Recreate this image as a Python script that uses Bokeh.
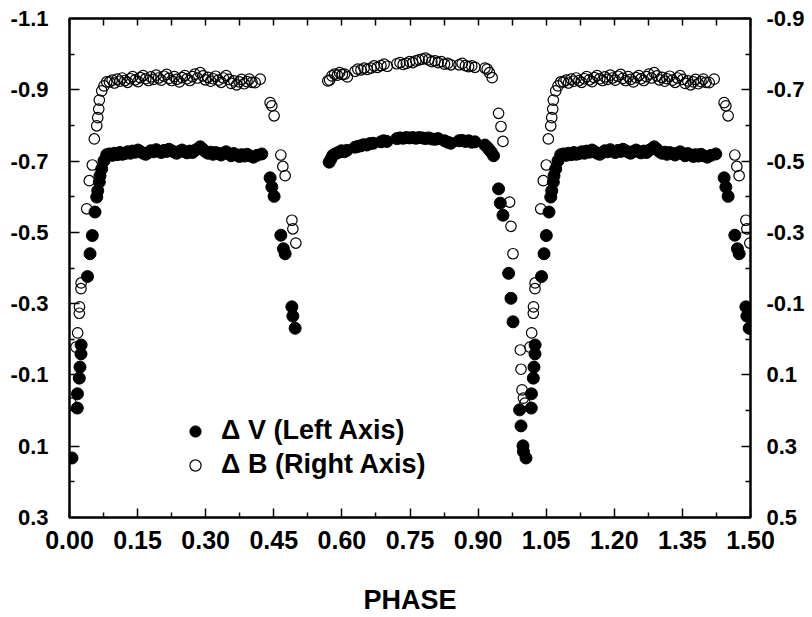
from bokeh.plotting import figure
from bokeh.models import (Range1d, LinearAxis, FixedTicker, PrintfTickFormatter,
                          Legend, LegendItem)
from bokeh.embed import file_html
from bokeh.resources import INLINE

# ---- Delta V (left axis): orbital phase 0..1 ----
v_phase = [
    0.0055, 0.0172, 0.0175, 0.0216, 0.0231, 0.0253, 0.0256, 0.0397, 0.0452, 0.0503,
    0.0562, 0.0600, 0.0622, 0.0657, 0.0672, 0.0710, 0.0760, 0.0820,
    0.088, 0.094, 0.099, 0.105, 0.111, 0.116, 0.122, 0.128, 0.134, 0.139,
    0.145, 0.151, 0.156, 0.162, 0.168, 0.174, 0.179, 0.185, 0.191, 0.196,
    0.202, 0.208, 0.214, 0.219, 0.225, 0.231, 0.236, 0.242, 0.248, 0.254,
    0.259, 0.265, 0.271, 0.276, 0.282, 0.288, 0.294, 0.299, 0.305, 0.311,
    0.316, 0.322, 0.328, 0.334, 0.339, 0.345, 0.351, 0.356, 0.362, 0.368,
    0.374, 0.379, 0.385, 0.391, 0.396,
    0.405, 0.413, 0.4236, 0.4419, 0.4457, 0.4507, 0.4655, 0.4712, 0.4750, 0.4898,
    0.4920, 0.4970,
    0.572, 0.576, 0.580, 0.585, 0.592, 0.599, 0.605, 0.611, 0.629, 0.635,
    0.642, 0.648, 0.655, 0.662, 0.669, 0.686, 0.692, 0.699, 0.721, 0.728,
    0.735, 0.742, 0.749, 0.756, 0.763, 0.770, 0.777, 0.784, 0.791, 0.798,
    0.805, 0.812, 0.826, 0.833, 0.840, 0.858, 0.865, 0.872, 0.879, 0.886,
    0.893, 0.915, 0.920, 0.925, 0.929, 0.934,
    0.9451, 0.9489, 0.9548, 0.9672, 0.9724, 0.9769, 0.9914, 0.9945, 0.9989, 0.9998,
]
v_mag = [
    0.133, -0.007, -0.047, -0.091, -0.122, -0.159, -0.184, -0.376, -0.440, -0.491,
    -0.557, -0.599, -0.617, -0.641, -0.659, -0.678, -0.701, -0.718,
    -0.720, -0.716, -0.722, -0.718, -0.724, -0.719, -0.721, -0.726, -0.722, -0.728,
    -0.725, -0.731, -0.727, -0.722, -0.719, -0.724, -0.729, -0.726, -0.732, -0.728,
    -0.724, -0.730, -0.727, -0.733, -0.729, -0.725, -0.722, -0.727, -0.731, -0.726,
    -0.723, -0.728, -0.724, -0.730, -0.734, -0.740, -0.733, -0.727, -0.722, -0.725,
    -0.719, -0.724, -0.721, -0.717, -0.722, -0.726, -0.720, -0.715, -0.721, -0.717,
    -0.713, -0.718, -0.714, -0.719, -0.715,
    -0.711, -0.716, -0.720, -0.653, -0.627, -0.601, -0.492, -0.454, -0.440, -0.291,
    -0.265, -0.231,
    -0.697, -0.706, -0.716, -0.720, -0.724, -0.729, -0.726, -0.730, -0.739, -0.741,
    -0.743, -0.746, -0.745, -0.749, -0.750, -0.754, -0.757, -0.755, -0.763, -0.765,
    -0.764, -0.766, -0.765, -0.766, -0.764, -0.766, -0.765, -0.763, -0.765, -0.762,
    -0.761, -0.763, -0.757, -0.753, -0.750, -0.757, -0.758, -0.755, -0.757, -0.753,
    -0.754, -0.745, -0.739, -0.731, -0.725, -0.715,
    -0.622, -0.582, -0.548, -0.385, -0.315, -0.249, -0.002, 0.043, 0.099, 0.115,
]

# ---- Delta B (right axis): orbital phase 0..1 ----
b_phase = [
    0.0033, 0.0143, 0.0180, 0.0216, 0.0220, 0.0253, 0.0256, 0.0379, 0.0436, 0.0503,
    0.0547, 0.0600, 0.0622, 0.0644, 0.0657, 0.0710, 0.0760, 0.0820,
    0.088, 0.094, 0.099, 0.105, 0.111, 0.116, 0.122, 0.128, 0.134, 0.139,
    0.145, 0.151, 0.156, 0.162, 0.168, 0.174, 0.179, 0.185, 0.191, 0.196,
    0.202, 0.208, 0.214, 0.219, 0.225, 0.231, 0.236, 0.242, 0.248, 0.254,
    0.259, 0.265, 0.271, 0.276, 0.282, 0.288, 0.294, 0.299, 0.305, 0.311,
    0.316, 0.322, 0.328, 0.334, 0.339, 0.345, 0.351, 0.356, 0.362, 0.368,
    0.374, 0.379, 0.385, 0.391, 0.396,
    0.402, 0.409, 0.420, 0.4419, 0.4457, 0.4507, 0.4655, 0.4699, 0.4750, 0.4898,
    0.4920, 0.4986,
    0.569, 0.573, 0.578, 0.584, 0.590, 0.595, 0.601, 0.606, 0.612, 0.629,
    0.635, 0.642, 0.649, 0.656, 0.664, 0.671, 0.678, 0.686, 0.693, 0.700,
    0.721, 0.728, 0.735, 0.742, 0.749, 0.756, 0.763, 0.770, 0.777, 0.784,
    0.791, 0.798, 0.805, 0.812, 0.819, 0.826, 0.833, 0.840, 0.858, 0.865,
    0.872, 0.879, 0.886, 0.893, 0.915, 0.920, 0.925, 0.931,
    0.9451, 0.9504, 0.9548, 0.9694, 0.9724, 0.9769, 0.9930, 0.9945, 0.9967, 0.9998,
]
b_mag = [
    0.179, 0.022, -0.018, -0.073, -0.091, -0.142, -0.158, -0.366, -0.445, -0.489,
    -0.562, -0.599, -0.622, -0.646, -0.671, -0.697, -0.711, -0.722,
    -0.722, -0.727, -0.719, -0.730, -0.724, -0.733, -0.726, -0.721, -0.731, -0.737,
    -0.728, -0.723, -0.734, -0.740, -0.731, -0.726, -0.736, -0.729, -0.741, -0.733,
    -0.727, -0.738, -0.743, -0.732, -0.726, -0.737, -0.729, -0.722, -0.734, -0.740,
    -0.731, -0.726, -0.737, -0.744, -0.733, -0.748, -0.739, -0.728, -0.735, -0.724,
    -0.731, -0.738, -0.727, -0.721, -0.733, -0.740, -0.729, -0.718, -0.725, -0.714,
    -0.722, -0.729, -0.717, -0.723, -0.730,
    -0.721, -0.720, -0.730, -0.664, -0.655, -0.627, -0.517, -0.485, -0.459, -0.334,
    -0.310, -0.270,
    -0.725, -0.727, -0.739, -0.744, -0.741, -0.748, -0.743, -0.744, -0.736, -0.752,
    -0.758, -0.756, -0.761, -0.757, -0.761, -0.767, -0.763, -0.768, -0.772, -0.766,
    -0.773, -0.776, -0.771, -0.774, -0.779, -0.776, -0.781, -0.784, -0.786, -0.789,
    -0.784, -0.779, -0.781, -0.776, -0.779, -0.772, -0.774, -0.770, -0.770, -0.774,
    -0.768, -0.765, -0.767, -0.763, -0.761, -0.758, -0.748, -0.734,
    -0.634, -0.597, -0.555, -0.385, -0.317, -0.240, 0.030, 0.084, 0.142, 0.165,
]

x_ticks = [0.0, 0.15, 0.30, 0.45, 0.60, 0.75, 0.90, 1.05, 1.20, 1.35, 1.50]
x_minor = [0.075, 0.225, 0.375, 0.525, 0.675, 0.825, 0.975, 1.125, 1.275, 1.425]
left_ticks = [-1.1, -0.9, -0.7, -0.5, -0.3, -0.1, 0.1, 0.3]
left_minor = [-1.0, -0.8, -0.6, -0.4, -0.2, 0.0, 0.2]
right_ticks = [-0.9, -0.7, -0.5, -0.3, -0.1, 0.1, 0.3, 0.5]
right_minor = [-0.8, -0.6, -0.4, -0.2, 0.0, 0.2, 0.4]


def fold(phase, mag):
    """Show phases 0..1 and repeat the first half cycle at phase + 1."""
    xs = list(phase) + [ph + 1.0 for ph in phase if ph < 0.5]
    ys = list(mag) + [m for ph, m in zip(phase, mag) if ph < 0.5]
    return xs, ys


FONT = "Liberation Sans"

p = figure(width=812, height=617, output_backend="svg", toolbar_location=None,
           x_range=Range1d(0.0, 1.5), y_range=Range1d(0.3, -1.1),
           min_border_left=69, min_border_right=62, min_border_top=18,
           min_border_bottom=99)
p.extra_y_ranges = {"B": Range1d(0.5, -0.9)}
p.xgrid.visible = False
p.ygrid.visible = False
p.outline_line_color = "black"
p.outline_line_width = 2.5
p.background_fill_color = "white"
p.border_fill_color = "white"


def style_axis(ax, standoff, size):
    ax.axis_line_color = None
    ax.major_tick_out = 0
    ax.minor_tick_out = 0
    ax.major_tick_line_color = "black"
    ax.minor_tick_line_color = "black"
    ax.major_tick_line_width = 1.5
    ax.minor_tick_line_width = 1.5
    ax.major_label_standoff = standoff
    ax.major_label_text_font = FONT
    ax.major_label_text_font_style = "bold"
    ax.major_label_text_font_size = size
    ax.major_label_text_color = "black"


# bottom axis
xa = p.xaxis[0]
xa.ticker = FixedTicker(ticks=x_ticks, minor_ticks=x_minor)
xa.formatter = PrintfTickFormatter(format="%.2f")
style_axis(xa, 13, "25px")
xa.major_tick_in = 9
xa.minor_tick_in = 5
xa.axis_label = "PHASE"
xa.axis_label_text_font = FONT
xa.axis_label_text_font_style = "bold"
xa.axis_label_text_font_size = "27px"
xa.axis_label_text_color = "black"
xa.axis_label_standoff = 33

# left axis (Delta V)
ya = p.yaxis[0]
ya.ticker = FixedTicker(ticks=left_ticks, minor_ticks=left_minor)
ya.formatter = PrintfTickFormatter(format="%.1f")
style_axis(ya, 21, "22px")
ya.major_tick_in = 10
ya.minor_tick_in = 5

# right axis (Delta B)
ra = LinearAxis(y_range_name="B",
                ticker=FixedTicker(ticks=right_ticks, minor_ticks=right_minor),
                formatter=PrintfTickFormatter(format="%.1f"))
style_axis(ra, 16, "22px")
ra.major_tick_in = 9
ra.minor_tick_in = 5
p.add_layout(ra, "right")

# top axis (ticks only)
ta = LinearAxis(ticker=FixedTicker(ticks=sorted(x_ticks + x_minor), minor_ticks=[]))
style_axis(ta, 0, "0px")
ta.major_tick_in = 7
ta.major_label_text_alpha = 0
p.add_layout(ta, "above")

vx, vy = fold(v_phase, v_mag)
bx, by = fold(b_phase, b_mag)

rv = p.scatter(vx, vy, size=12, marker="circle", fill_color="black",
               line_color="black", line_width=1)
rb = p.scatter(bx, by, size=10.5, marker="circle", fill_color=None,
               line_color="black", line_width=1.2, y_range_name="B")

legend = Legend(items=[LegendItem(label="\u0394 V (Left Axis)", renderers=[rv]),
                       LegendItem(label="\u0394 B (Right Axis)", renderers=[rb])],
                location=(112, 37), glyph_width=28, glyph_height=28,
                label_standoff=12, spacing=3, padding=0, margin=0,
                border_line_color=None, background_fill_alpha=0,
                label_text_font=FONT, label_text_font_style="bold",
                label_text_font_size="27px", label_text_color="black")
p.add_layout(legend, "center")

open("out.html", "w").write(file_html(p, INLINE))
